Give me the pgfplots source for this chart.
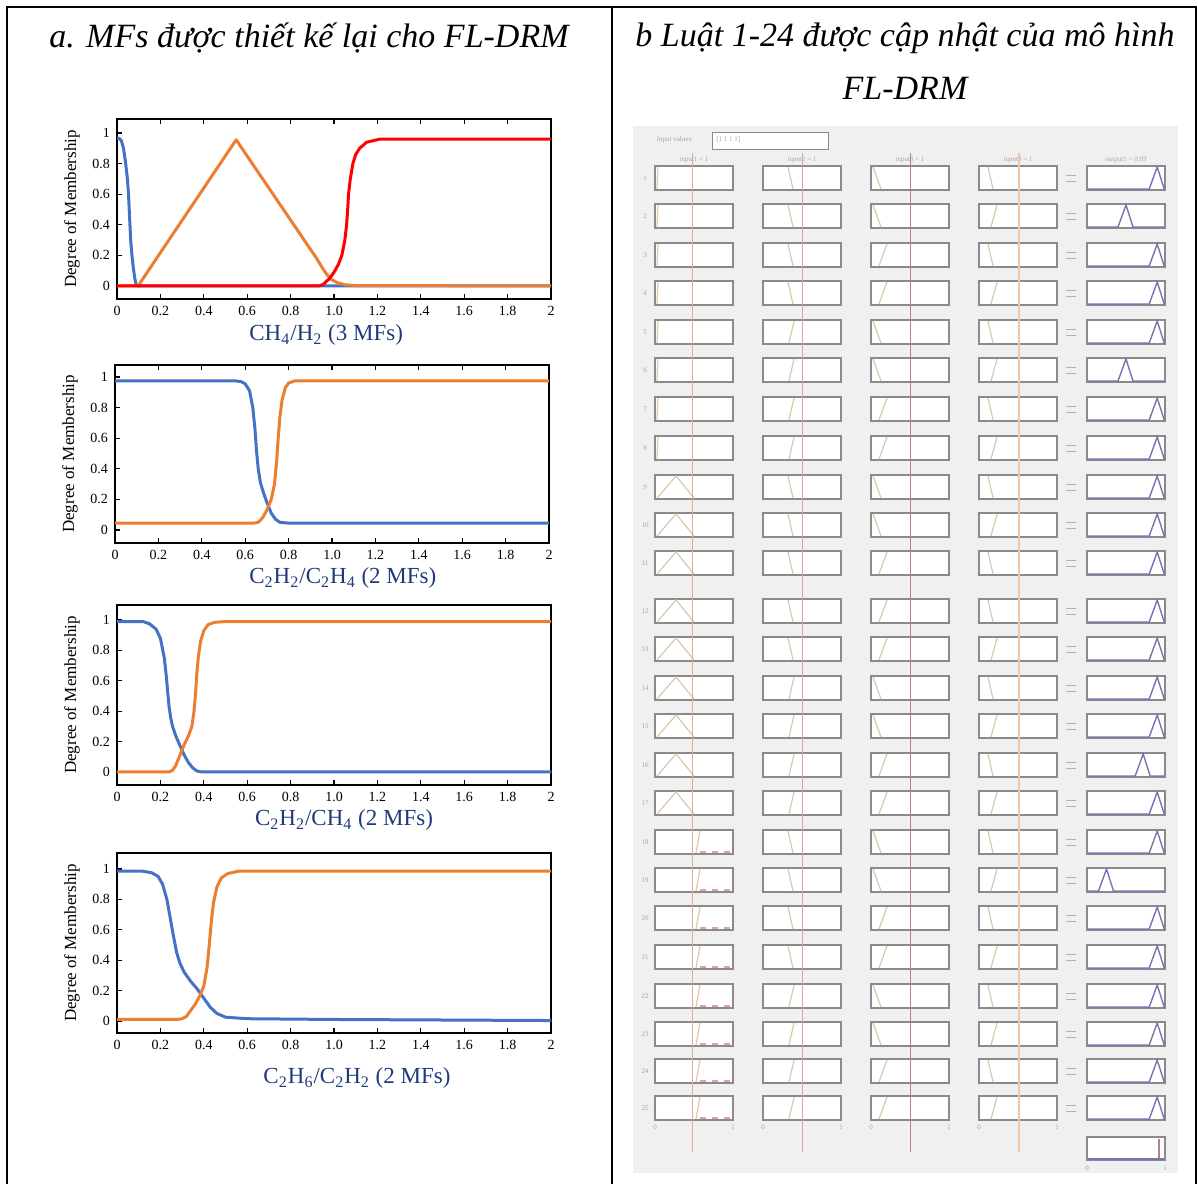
\documentclass[border=0pt]{standalone}
\usepackage{fontspec}
\setmainfont{Liberation Serif}
\usepackage{pgfplots}
\pgfplotsset{compat=1.18}

\definecolor{mfblue}{HTML}{4472C4}
\definecolor{mforange}{HTML}{ED7D31}
\definecolor{mfred}{HTML}{FF0000}
\definecolor{lblblue}{HTML}{1F3A78}
\definecolor{panelgray}{HTML}{F0F0F0}
\definecolor{boxc}{HTML}{8A8A8A}
\definecolor{mfc}{HTML}{DCC8AC}
\definecolor{outc}{HTML}{7474B4}
\definecolor{lineA}{HTML}{E6A88E}
\definecolor{lineB}{HTML}{E0A4A0}
\definecolor{lineC}{HTML}{B88080}
\definecolor{lineD}{HTML}{F2C6A8}

\pgfplotsset{
  mfaxis/.style={
    scale only axis, width=217pt, anchor=south west,
    xmin=0, xmax=2,
    xtick={0,0.2,0.4,0.6,0.8,1,1.2,1.4,1.6,1.8,2},
    xticklabels={0,0.2,0.4,0.6,0.8,1.0,1.2,1.4,1.6,1.8,2},
    ytick={0,0.2,0.4,0.6,0.8,1},
    yticklabels={0,0.2,0.4,0.6,0.8,1},
    tick align=inside, ytick pos=left, xtick pos=bottom,
    major tick length=2.5pt,
    tick style={black, line width=0.6pt},
    axis line style={line width=0.7pt},
    ticklabel style={font=\fontsize{7}{8}\selectfont},
    /pgf/number format/assume math mode=true,
    ylabel={Degree of Membership},
    ylabel style={font=\fontsize{8.5}{10}\selectfont, at={(axis description cs:-0.104,0.5)}, anchor=center},
    xlabel style={font=\fontsize{11.5}{13}\selectfont, text=lblblue, anchor=center},
    every axis plot/.append style={line width=1.5pt, line join=round},
  },
}
\tikzset{tinytxt/.style={font=\fontsize{3.5}{4}\selectfont, text=gray!70, inner sep=0pt}}

% one row of the rule viewer: number, centre y (px), input shapes, output peak
\newcommand\inbox[2]{\draw[boxc, line width=0.9pt, fill=white] (axis cs:#1,#2-12) rectangle (axis cs:#1+78,#2+12);}
\newcommand\rrow[7]{%
  \node[tinytxt] at (axis cs:645,#2) {#1};
  \inbox{655}{#2}\inbox{763}{#2}\inbox{871}{#2}\inbox{979}{#2}\inbox{1087}{#2}
  \if L#3 \draw[mfc, line width=0.6pt] (axis cs:657,#2+11) -- (axis cs:658,#2-11);\fi
  \if T#3 \draw[mfc, line width=0.6pt] (axis cs:657,#2+11) -- (axis cs:676,#2-11) -- (axis cs:694,#2+11);\fi
  \if S#3 \draw[mfc, line width=0.6pt] (axis cs:696,#2+11) -- (axis cs:700,#2-11);
          \draw[lineB, dashed, line width=0.6pt] (axis cs:700,#2+10) -- (axis cs:731,#2+10);\fi
  \if F#4 \draw[mfc, line width=0.6pt] (axis cs:788,#2-11) -- (axis cs:793,#2+11);\else
          \draw[mfc, line width=0.6pt] (axis cs:789,#2+11) -- (axis cs:794,#2-11);\fi
  \if F#5 \draw[mfc, line width=0.6pt] (axis cs:873,#2-11) -- (axis cs:881,#2+11);\else
          \draw[mfc, line width=0.6pt] (axis cs:879,#2+11) -- (axis cs:887,#2-11);\fi
  \if F#6 \draw[mfc, line width=0.6pt] (axis cs:988,#2-11) -- (axis cs:993,#2+11);\else
          \draw[mfc, line width=0.6pt] (axis cs:991,#2+11) -- (axis cs:997,#2-11);\fi
  \draw[outc, line width=0.7pt] (axis cs:1088,#2+11) -- (axis cs:1079+#7*78,#2+11) -- (axis cs:1087+#7*78,#2-11) -- (axis cs:1094+#7*78,#2+11) -- (axis cs:1164,#2+11);
  \draw[gray!60, line width=0.5pt] (axis cs:1066,#2-3) -- (axis cs:1076,#2-3) (axis cs:1066,#2+3) -- (axis cs:1076,#2+3);
}

\begin{document}
\begin{tikzpicture}
\useasboundingbox (0,0) rectangle (599pt,592pt);

% page frame, titles and the rule viewer, in pixel units
\begin{axis}[at={(0,0)}, anchor=south west, scale only axis, width=599pt, height=592pt,
  xmin=0, xmax=1198, ymin=0, ymax=1184, y dir=reverse, hide axis, clip=false]
  \fill[panelgray] (axis cs:633,126) rectangle (axis cs:1178,1173);
  \draw[line width=1pt] (axis cs:7,1184) -- (axis cs:7,7) -- (axis cs:1196,7) -- (axis cs:1196,1184);
  \draw[line width=1pt] (axis cs:612,7) -- (axis cs:612,1184);
  \node[font=\fontsize{17}{20}\selectfont\itshape] at (axis cs:309,38) {a. MFs được thiết kế lại cho FL-DRM};
  \node[font=\fontsize{17}{20}\selectfont\itshape] at (axis cs:905,38) {b Luật 1-24 được cập nhật của mô hình};
  \node[font=\fontsize{17}{20}\selectfont\itshape] at (axis cs:905,88) {FL-DRM};

  \node[tinytxt] at (axis cs:675,140) {Input values:};
  \draw[boxc, fill=white, line width=0.5pt] (axis cs:712,132) rectangle (axis cs:828,149);
  \node[tinytxt, anchor=west] at (axis cs:716,140) {[1 1 1 1]};
  \node[tinytxt] at (axis cs:694,160) {input1 = 1};
  \node[tinytxt] at (axis cs:802,160) {input2 = 1};
  \node[tinytxt] at (axis cs:910,160) {input3 = 1};
  \node[tinytxt] at (axis cs:1018,160) {input4 = 1};
  \node[tinytxt] at (axis cs:1126,160) {output1 = 0.93};

  \rrow{1}{178}{L}{F}{F}{F}{0.9}
  \rrow{2}{216}{L}{F}{F}{R}{0.5}
  \rrow{3}{255}{L}{F}{R}{F}{0.9}
  \rrow{4}{293}{L}{F}{R}{R}{0.9}
  \rrow{5}{332}{L}{R}{F}{F}{0.9}
  \rrow{6}{370}{L}{R}{F}{R}{0.5}
  \rrow{7}{409}{L}{R}{R}{F}{0.9}
  \rrow{8}{448}{L}{R}{R}{R}{0.9}
  \rrow{9}{487}{T}{F}{F}{F}{0.9}
  \rrow{10}{525}{T}{F}{F}{R}{0.9}
  \rrow{11}{563}{T}{F}{R}{F}{0.9}
  \rrow{12}{611}{T}{F}{R}{F}{0.9}
  \rrow{13}{649}{T}{F}{R}{R}{0.9}
  \rrow{14}{688}{T}{R}{F}{F}{0.9}
  \rrow{15}{726}{T}{R}{F}{R}{0.9}
  \rrow{16}{765}{T}{R}{R}{F}{0.72}
  \rrow{17}{803}{T}{R}{R}{R}{0.9}
  \rrow{18}{842}{S}{F}{F}{F}{0.9}
  \rrow{19}{880}{S}{F}{F}{R}{0.25}
  \rrow{20}{918}{S}{F}{R}{F}{0.9}
  \rrow{21}{957}{S}{F}{R}{R}{0.9}
  \rrow{22}{996}{S}{R}{F}{F}{0.9}
  \rrow{23}{1034}{S}{R}{F}{R}{0.9}
  \rrow{24}{1071}{S}{R}{R}{F}{0.9}
  \rrow{25}{1108}{S}{R}{R}{R}{0.9}

  % aggregated output
  \draw[boxc, line width=0.9pt, fill=white] (axis cs:1087,1137) rectangle (axis cs:1165,1160);
  \draw[outc, line width=0.7pt] (axis cs:1088,1159) -- (axis cs:1164,1159);
  \draw[lineC, line width=1pt] (axis cs:1159,1139) -- (axis cs:1159,1158);
  \node[tinytxt] at (axis cs:1087,1168) {0};
  \node[tinytxt] at (axis cs:1165,1168) {1};
  \node[tinytxt] at (axis cs:655,1127) {0};
  \node[tinytxt] at (axis cs:733,1127) {1};
  \node[tinytxt] at (axis cs:763,1127) {0};
  \node[tinytxt] at (axis cs:841,1127) {1};
  \node[tinytxt] at (axis cs:871,1127) {0};
  \node[tinytxt] at (axis cs:949,1127) {1};
  \node[tinytxt] at (axis cs:979,1127) {0};
  \node[tinytxt] at (axis cs:1057,1127) {1};

  % input value lines
  \draw[lineA, line width=0.5pt] (axis cs:692,153) -- (axis cs:692,1152);
  \draw[lineB, line width=0.5pt] (axis cs:802,153) -- (axis cs:802,1152);
  \draw[lineC, line width=0.5pt] (axis cs:910,153) -- (axis cs:910,1152);
  \draw[lineD, line width=0.7pt] (axis cs:1019,153) -- (axis cs:1019,1152);
\end{axis}

% CH4/H2
\begin{axis}[mfaxis, at={(58.5pt,442.5pt)}, height=90pt, ymin=-0.085, ymax=1.092,
  xtick pos=both, xlabel={CH\textsubscript{4}/H\textsubscript{2} (3 MFs)},
  xlabel style={at={(axis description cs:0.482,-0.2)}}]
  \addplot[mfblue] coordinates {(0,0.97)(0.01,0.965)(0.02,0.95)(0.03,0.9)(0.04,0.8)(0.048,0.7)(0.053,0.6)(0.058,0.45)(0.063,0.3)(0.069,0.2)(0.075,0.12)(0.082,0.05)(0.088,0.01)(0.095,0)(2,0)};
  \addplot[mforange] coordinates {(0,0)(0.097,0)(0.549,0.956)(0.92,0.18)(0.95,0.11)(0.97,0.07)(0.99,0.04)(1.02,0.02)(1.05,0.008)(1.1,0.003)(2,0)};
  \addplot[mfred] coordinates {(0,0)(0.93,0)(0.95,0.01)(0.98,0.05)(1.0,0.09)(1.02,0.14)(1.036,0.2)(1.05,0.3)(1.058,0.4)(1.063,0.5)(1.067,0.6)(1.075,0.7)(1.087,0.8)(1.1,0.86)(1.118,0.9)(1.15,0.94)(1.21,0.96)(2,0.96)};
\end{axis}

% C2H2/C2H4
\begin{axis}[mfaxis, at={(57.5pt,320.5pt)}, height=89pt, ymin=-0.085, ymax=1.078,
  xtick pos=both, xlabel={C\textsubscript{2}H\textsubscript{2}/C\textsubscript{2}H\textsubscript{4} (2 MFs)},
  xlabel style={at={(axis description cs:0.525,-0.197)}}]
  \addplot[mfblue] coordinates {(0,0.975)(0.55,0.975)(0.58,0.97)(0.6,0.955)(0.62,0.91)(0.635,0.8)(0.645,0.66)(0.652,0.52)(0.66,0.4)(0.67,0.31)(0.685,0.24)(0.7,0.18)(0.72,0.11)(0.74,0.07)(0.76,0.05)(0.8,0.045)(2,0.045)};
  \addplot[mforange] coordinates {(0,0.045)(0.64,0.045)(0.66,0.05)(0.68,0.08)(0.7,0.13)(0.72,0.2)(0.735,0.3)(0.745,0.45)(0.752,0.6)(0.76,0.74)(0.77,0.85)(0.785,0.93)(0.8,0.96)(0.83,0.975)(2,0.975)};
\end{axis}

% C2H2/CH4
\begin{axis}[mfaxis, at={(58.5pt,199.5pt)}, height=90pt, ymin=-0.086, ymax=1.099,
  xlabel={C\textsubscript{2}H\textsubscript{2}/CH\textsubscript{4} (2 MFs)},
  xlabel style={at={(axis description cs:0.523,-0.195)}}]
  \addplot[mfblue] coordinates {(0,0.99)(0.12,0.99)(0.15,0.975)(0.18,0.94)(0.2,0.88)(0.218,0.75)(0.228,0.62)(0.234,0.52)(0.24,0.43)(0.247,0.36)(0.256,0.3)(0.27,0.24)(0.288,0.18)(0.31,0.11)(0.33,0.06)(0.35,0.025)(0.37,0.005)(0.39,0)(2,0)};
  \addplot[mforange] coordinates {(0,0)(0.24,0)(0.255,0.01)(0.27,0.04)(0.29,0.11)(0.31,0.18)(0.33,0.24)(0.345,0.3)(0.355,0.4)(0.362,0.52)(0.368,0.65)(0.375,0.76)(0.385,0.86)(0.4,0.93)(0.42,0.97)(0.45,0.985)(0.5,0.99)(2,0.99)};
\end{axis}

% C2H6/C2H2
\begin{axis}[mfaxis, at={(58.5pt,75.5pt)}, height=90pt, ymin=-0.079, ymax=1.105,
  xlabel={C\textsubscript{2}H\textsubscript{6}/C\textsubscript{2}H\textsubscript{2} (2 MFs)},
  xlabel style={at={(axis description cs:0.553,-0.25)}}]
  \addplot[mfblue] coordinates {(0,0.985)(0.12,0.985)(0.16,0.975)(0.19,0.95)(0.21,0.9)(0.23,0.8)(0.245,0.68)(0.26,0.56)(0.275,0.45)(0.29,0.38)(0.31,0.32)(0.34,0.26)(0.37,0.21)(0.4,0.15)(0.43,0.09)(0.46,0.05)(0.5,0.025)(0.6,0.015)(1,0.01)(2,0.003)};
  \addplot[mforange] coordinates {(0,0.01)(0.28,0.01)(0.3,0.015)(0.32,0.03)(0.34,0.07)(0.36,0.11)(0.38,0.16)(0.4,0.23)(0.415,0.35)(0.425,0.5)(0.435,0.66)(0.445,0.78)(0.46,0.88)(0.48,0.94)(0.51,0.97)(0.56,0.985)(2,0.985)};
\end{axis}
\end{tikzpicture}
\end{document}
